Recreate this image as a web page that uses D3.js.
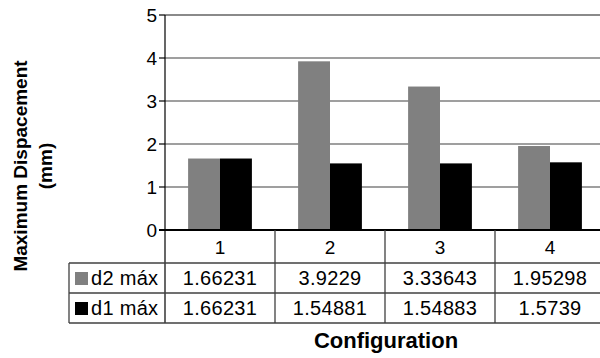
<!DOCTYPE html>
<html>
<head>
<meta charset="utf-8">
<script src="https://cdn.jsdelivr.net/npm/d3@7"></script>
<style>
  html, body { margin: 0; padding: 0; background: #ffffff; }
  svg { display: block; font-family: Arial, "Liberation Sans", sans-serif; }
</style>
</head>
<body>
<div id="chart"></div>
<script>
// data
var configs = ["1", "2", "3", "4"];
var seriesNames = ["d2 máx", "d1 máx"];
var d2max = [1.66231, 3.9229, 3.33643, 1.95298];
var d1max = [1.66231, 1.54881, 1.54883, 1.5739];
var d2labels = ["1.66231", "3.9229", "3.33643", "1.95298"];
var d1labels = ["1.66231", "1.54881", "1.54883", "1.5739"];
var yTicks = [0, 1, 2, 3, 4, 5];

var W = 600, H = 358;
var cols = {"d2 máx": "#808080", "d1 máx": "#000000"};

var svg = d3.select("#chart").append("svg").attr("width", W).attr("height", H);

// plot geometry
var plot = {left: 165, right: 605, top: 15, bottom: 230};
var table = {left: 69, rowH: 30, headH: 33};

var x = d3.scaleBand().domain(configs).range([plot.left, plot.right]).padding(0);
var y = d3.scaleLinear().domain([0, 5]).range([plot.bottom, plot.top]);
var groupW = x.bandwidth() * 0.58;
var xs = d3.scaleBand().domain(seriesNames)
	.range([(x.bandwidth() - groupW) / 2, (x.bandwidth() + groupW) / 2]).padding(0);

//grid lines
svg.selectAll("line.grid").data(yTicks.filter(function(d){return d > 0;}))
	.enter().append("line").classed("grid", true)
	.attr("x1", plot.left).attr("x2", W)
	.attr("y1", function(d){return y(d);}).attr("y2", function(d){return y(d);})
	.attr("stroke", function(d){return d == 5 ? "#8a8a8a" : "#404040";})
	.attr("stroke-width", function(d){return d == 5 ? 2 : 1.2;});

//bars
var rows = seriesNames.map(function(s, i){
	return {name: s, values: i == 0 ? d2max : d1max, labels: i == 0 ? d2labels : d1labels};
});

var groups = svg.selectAll("g.cfg").data(configs).enter().append("g").classed("cfg", true)
	.attr("transform", function(d){return "translate(" + x(d) + ",0)";});

groups.selectAll("rect").data(function(d, i){
		return rows.map(function(r){return {name: r.name, value: r.values[i]};});
	})
	.enter().append("rect")
	.attr("x", function(d){return xs(d.name);})
	.attr("width", xs.bandwidth())
	.attr("y", function(d){return y(d.value);})
	.attr("height", function(d){return y(0) - y(d.value);})
	.attr("fill", function(d){return cols[d.name];});

//y axis
svg.append("line").attr("x1", plot.left).attr("x2", plot.left)
	.attr("y1", y(5)).attr("y2", plot.bottom + table.headH + 2 * table.rowH)
	.attr("stroke", "#000").attr("stroke-width", 1.2);

svg.selectAll("line.tick").data(yTicks).enter().append("line").classed("tick", true)
	.attr("x1", plot.left - 6).attr("x2", plot.left)
	.attr("y1", function(d){return y(d);}).attr("y2", function(d){return y(d);})
	.attr("stroke", "#000").attr("stroke-width", 1.2);

svg.selectAll("text.ytick").data(yTicks).enter().append("text").classed("ytick", true)
	.attr("x", plot.left - 8).attr("y", function(d){return y(d);})
	.attr("dy", "0.36em").attr("text-anchor", "end")
	.style("font-size", "19px").attr("fill", "#000")
	.text(function(d){return d;});

//zero line
svg.append("line").attr("x1", plot.left - 6).attr("x2", W)
	.attr("y1", y(0)).attr("y2", y(0))
	.attr("stroke", "#000").attr("stroke-width", 2);

//data table
var tY0 = plot.bottom, tY1 = tY0 + table.headH, tY2 = tY1 + table.rowH, tY3 = tY2 + table.rowH;
var lineCol = "#404040";

[tY1, tY2, tY3].forEach(function(yy){
	svg.append("line").attr("x1", table.left).attr("x2", W)
		.attr("y1", yy).attr("y2", yy).attr("stroke", lineCol).attr("stroke-width", 1.3);
});
svg.append("line").attr("x1", table.left).attr("x2", table.left)
	.attr("y1", tY1).attr("y2", tY3).attr("stroke", lineCol).attr("stroke-width", 1.3);
svg.selectAll("line.cell").data(configs.slice(1)).enter().append("line").classed("cell", true)
	.attr("x1", function(d){return x(d);}).attr("x2", function(d){return x(d);})
	.attr("y1", tY0).attr("y2", tY3).attr("stroke", lineCol).attr("stroke-width", 1.3);

//header row
svg.selectAll("text.cfg").data(configs).enter().append("text").classed("cfg", true)
	.attr("x", function(d){return x(d) + x.bandwidth() / 2;})
	.attr("y", (tY0 + tY1) / 2 + 1).attr("dy", "0.36em").attr("text-anchor", "middle")
	.style("font-size", "19px").text(function(d){return d;});

//value rows
rows.forEach(function(r, ri){
	var cy = (ri == 0 ? (tY1 + tY2) / 2 : (tY2 + tY3) / 2);
	svg.append("rect").attr("x", table.left + 6).attr("y", cy - 6)
		.attr("width", 13).attr("height", 13).attr("fill", cols[r.name]);
	svg.append("text").attr("x", table.left + 22).attr("y", cy).attr("dy", "0.36em")
		.style("font-size", "20px").style("letter-spacing", "0.3px").text(r.name);
	svg.selectAll("text.v" + ri).data(r.labels).enter().append("text").classed("v" + ri, true)
		.attr("x", function(d, i){return x(configs[i]) + x.bandwidth() / 2;})
		.attr("y", cy).attr("dy", "0.36em").attr("text-anchor", "middle")
		.style("font-size", "20px").style("letter-spacing", "0.3px").text(function(d){return d;});
});

//axis titles
svg.append("text").attr("x", x("3") + 1).attr("y", 348).attr("text-anchor", "middle")
	.style("font-size", "22px").style("font-weight", "bold").text("Configuration");

var yt = svg.append("text").attr("transform", "translate(0,166) rotate(-90)")
	.attr("text-anchor", "middle").style("font-size", "19px").style("font-weight", "bold");
yt.append("tspan").attr("x", 0).attr("y", 27).text("Maximum Dispacement");
yt.append("tspan").attr("x", 0).attr("y", 52).text("(mm)");
</script>
</body>
</html>
